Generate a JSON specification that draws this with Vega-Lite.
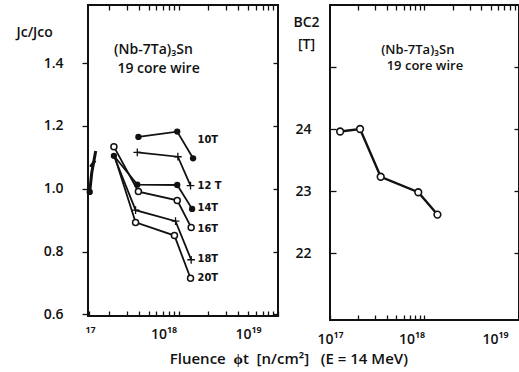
{
  "$schema": "https://vega.github.io/schema/vega-lite/v6.json",
  "padding": {"left": 15, "top": 3, "right": 0, "bottom": 0},
  "background": "white",
  "spacing": 11,
  "title": {"text": "Fluence\u00a0 ϕt\u00a0 [n/cm²]\u00a0\u00a0 (E = 14 MeV)", "orient": "bottom", "anchor": "middle", "fontSize": 15, "fontWeight": 600, "font": "Open Sans", "color": "#111", "dx": 21, "offset": 5},
  "datasets": {
    "jc": [
      {"series": "10T", "fluence": 3.95e17, "ratio": 1.165},
      {"series": "10T", "fluence": 9.7e17, "ratio": 1.182},
      {"series": "10T", "fluence": 1.40e18, "ratio": 1.097},
      {"series": "12T", "fluence": 3.85e17, "ratio": 1.116},
      {"series": "12T", "fluence": 9.85e17, "ratio": 1.102},
      {"series": "12T", "fluence": 1.32e18, "ratio": 1.010},
      {"series": "14T", "fluence": 2.24e17, "ratio": 1.105},
      {"series": "14T", "fluence": 3.85e17, "ratio": 1.013},
      {"series": "14T", "fluence": 9.7e17, "ratio": 1.012},
      {"series": "14T", "fluence": 1.37e18, "ratio": 0.936},
      {"series": "16T", "fluence": 2.24e17, "ratio": 1.134},
      {"series": "16T", "fluence": 3.95e17, "ratio": 0.991},
      {"series": "16T", "fluence": 9.7e17, "ratio": 0.963},
      {"series": "16T", "fluence": 1.34e18, "ratio": 0.877},
      {"series": "18T", "fluence": 2.24e17, "ratio": 1.105},
      {"series": "18T", "fluence": 3.7e17, "ratio": 0.932},
      {"series": "18T", "fluence": 9.33e17, "ratio": 0.897},
      {"series": "18T", "fluence": 1.34e18, "ratio": 0.774},
      {"series": "20T", "fluence": 2.24e17, "ratio": 1.110},
      {"series": "20T", "fluence": 3.7e17, "ratio": 0.893},
      {"series": "20T", "fluence": 9.1e17, "ratio": 0.851},
      {"series": "20T", "fluence": 1.32e18, "ratio": 0.715}
    ],
    "edge": [
      {"part": "a", "fluence": 1.28e17, "ratio": 0.99},
      {"part": "a", "fluence": 1.34e17, "ratio": 1.05},
      {"part": "a", "fluence": 1.47e17, "ratio": 1.12},
      {"part": "b", "fluence": 1.30e17, "ratio": 1.07},
      {"part": "b", "fluence": 1.45e17, "ratio": 1.09}
    ],
    "tagsL": [
      {"fluence": 1.35e18, "ratio": 1.154, "text": "10T"},
      {"fluence": 1.35e18, "ratio": 1.009, "text": "12 T"},
      {"fluence": 1.35e18, "ratio": 0.939, "text": "14T"},
      {"fluence": 1.35e18, "ratio": 0.871, "text": "16T"},
      {"fluence": 1.35e18, "ratio": 0.777, "text": "18T"},
      {"fluence": 1.35e18, "ratio": 0.717, "text": "20T"}
    ],
    "notesL": [
      {"fluence": 5.6e17, "ratio": 1.442, "text": "(Nb-7Ta)₃Sn"},
      {"fluence": 6.3e17, "ratio": 1.381, "text": "19 core wire"}
    ],
    "bc2": [
      {"fluence": 1.28e17, "bc2": 23.96},
      {"fluence": 2.08e17, "bc2": 24.0},
      {"fluence": 3.44e17, "bc2": 23.23},
      {"fluence": 8.59e17, "bc2": 22.98},
      {"fluence": 1.37e18, "bc2": 22.62}
    ],
    "notesR": [
      {"fluence": 8.5e17, "bc2": 25.27, "text": "(Nb-7Ta)₃Sn"},
      {"fluence": 1.01e18, "bc2": 25.01, "text": "19 core wire"}
    ]
  },
  "hconcat": [
    {
      "width": 190,
      "height": 311,
      "resolve": {"axis": {"x": "independent", "y": "independent"}},
      "layer": [
        {
          "data": {"name": "jc"},
          "mark": {"type": "line", "color": "#111", "strokeWidth": 1.8},
          "encoding": {
            "x": {"field": "fluence", "type": "quantitative",
              "scale": {"type": "log", "domain": [1.23e17, 1e19], "nice": false},
              "axis": {"orient": "bottom", "values": [1.26e17, 2e17, 3e17, 4e17, 5e17, 6e17, 7e17, 8e17, 9e17, 1e18, 2e18, 3e18, 4e18, 5e18, 6e18, 7e18, 8e18, 9e18, 1e19],
                "labelFlush": false, "labelOverlap": false, "offset": -5, "tickSize": 5,
                "labelExpr": "datum.value == 1e18 ? '10¹⁸' : datum.value == 1e19 ? '10¹⁹' : datum.value < 1.5e17 ? '¹⁷' : ''",
                "labelOffset": {"condition": [{"test": "datum.value < 5e17", "value": 1}, {"test": "datum.value < 5e18", "value": -15}], "value": -30},
                "labelPadding": 11, "title": null}},
            "y": {"field": "ratio", "type": "quantitative",
              "scale": {"domain": [0.595, 1.585], "zero": false, "nice": false},
              "axis": {"orient": "left", "values": [0.6, 0.8, 1.0, 1.2, 1.4], "format": ".1f", "tickSize": 6, "labelPadding": 19,
                "title": "Jc/Jco", "titleAngle": 0, "titleX": -72, "titleY": 27, "titleAlign": "left", "titleBaseline": "middle"}},
            "detail": {"field": "series"}
          }
        },
        {
          "data": {"name": "edge"},
          "mark": {"type": "line", "color": "#111", "strokeWidth": 3},
          "encoding": {
            "x": {"field": "fluence", "type": "quantitative",
              "scale": {"type": "log", "domain": [1.23e17, 1e19], "nice": false},
              "axis": {"orient": "top", "values": [2e17, 3e17, 4e17, 5e17, 6e17, 7e17, 8e17, 9e17, 1e18, 2e18, 3e18, 4e18, 5e18, 6e18, 7e18, 8e18, 9e18],
                "labels": false, "title": null, "offset": -5, "tickSize": 5}},
            "y": {"field": "ratio", "type": "quantitative",
              "scale": {"domain": [0.595, 1.585], "zero": false, "nice": false},
              "axis": {"orient": "right", "values": [0.6, 0.8, 1.0, 1.2, 1.4], "labels": false, "offset": -5, "tickSize": 5, "title": null}},
            "detail": {"field": "part"}
          }
        },
        {
          "data": {"name": "jc"},
          "transform": [{"filter": "datum.series == '16T' || (datum.series == '20T' && datum.fluence > 3e17)"}],
          "mark": {"type": "point", "shape": "circle", "filled": false, "fill": "white", "stroke": "#111", "strokeWidth": 1.5, "size": 36, "opacity": 1},
          "encoding": {
            "x": {"field": "fluence", "type": "quantitative", "scale": {"type": "log", "domain": [1.23e17, 1e19], "nice": false}, "axis": null},
            "y": {"field": "ratio", "type": "quantitative", "scale": {"domain": [0.595, 1.585], "zero": false, "nice": false}, "axis": null}
          }
        },
        {
          "data": {"name": "jc"},
          "transform": [{"filter": "datum.series == '10T' || datum.series == '14T'"}],
          "mark": {"type": "point", "shape": "circle", "filled": true, "color": "#111", "size": 40, "opacity": 1},
          "encoding": {
            "x": {"field": "fluence", "type": "quantitative", "scale": {"type": "log", "domain": [1.23e17, 1e19], "nice": false}, "axis": null},
            "y": {"field": "ratio", "type": "quantitative", "scale": {"domain": [0.595, 1.585], "zero": false, "nice": false}, "axis": null}
          }
        },
        {
          "data": {"name": "edge"},
          "transform": [{"filter": "datum.fluence < 1.29e17"}],
          "mark": {"type": "point", "shape": "circle", "filled": true, "color": "#111", "size": 40, "opacity": 1},
          "encoding": {
            "x": {"field": "fluence", "type": "quantitative", "scale": {"type": "log", "domain": [1.23e17, 1e19], "nice": false}, "axis": null},
            "y": {"field": "ratio", "type": "quantitative", "scale": {"domain": [0.595, 1.585], "zero": false, "nice": false}, "axis": null}
          }
        },
        {
          "data": {"name": "jc"},
          "transform": [{"filter": "datum.series == '12T' || (datum.series == '18T' && datum.fluence > 3e17)"}],
          "mark": {"type": "point", "shape": "M-1,0H1M0,-1V1", "filled": false, "stroke": "#111", "strokeWidth": 1.3, "size": 60, "opacity": 1},
          "encoding": {
            "x": {"field": "fluence", "type": "quantitative", "scale": {"type": "log", "domain": [1.23e17, 1e19], "nice": false}, "axis": null},
            "y": {"field": "ratio", "type": "quantitative", "scale": {"domain": [0.595, 1.585], "zero": false, "nice": false}, "axis": null}
          }
        },
        {
          "data": {"name": "tagsL"},
          "mark": {"type": "text", "align": "left", "baseline": "middle", "dx": 6, "fontSize": 11, "fontWeight": "bold", "font": "Liberation Sans Narrow, DejaVu Sans Condensed, sans-serif", "color": "#111"},
          "encoding": {
            "x": {"field": "fluence", "type": "quantitative", "scale": {"type": "log", "domain": [1.23e17, 1e19], "nice": false}, "axis": null},
            "y": {"field": "ratio", "type": "quantitative", "scale": {"domain": [0.595, 1.585], "zero": false, "nice": false}, "axis": null},
            "text": {"field": "text"}
          }
        },
        {
          "data": {"name": "notesL"},
          "mark": {"type": "text", "align": "center", "baseline": "middle", "fontSize": 14, "fontWeight": 600, "color": "#111"},
          "encoding": {
            "x": {"field": "fluence", "type": "quantitative", "scale": {"type": "log", "domain": [1.23e17, 1e19], "nice": false}, "axis": null},
            "y": {"field": "ratio", "type": "quantitative", "scale": {"domain": [0.595, 1.585], "zero": false, "nice": false}, "axis": null},
            "text": {"field": "text"}
          }
        }
      ]
    },
    {
      "width": 189,
      "height": 315,
      "resolve": {"axis": {"x": "independent", "y": "independent"}},
      "layer": [
        {
          "data": {"name": "bc2"},
          "mark": {"type": "line", "color": "#111", "strokeWidth": 2.4},
          "encoding": {
            "x": {"field": "fluence", "type": "quantitative",
              "scale": {"type": "log", "domain": [1e17, 1e19], "nice": false},
              "axis": {"orient": "bottom", "values": [1e17, 2e17, 3e17, 4e17, 5e17, 6e17, 7e17, 8e17, 9e17, 1e18, 1e19],
                "labelFlush": false, "labelOverlap": false, "offset": -5, "tickSize": 5,
                "labelExpr": "datum.value == 1e17 ? '10¹⁷' : datum.value == 1e18 ? '10¹⁸' : datum.value == 1e19 ? '10¹⁹' : ''",
                "labelOffset": {"condition": [{"test": "datum.value < 5e17", "value": 0}, {"test": "datum.value < 5e18", "value": -13}], "value": -24},
                "labelPadding": 12, "title": null}},
            "y": {"field": "bc2", "type": "quantitative",
              "scale": {"domain": [20.92, 26.0], "zero": false, "nice": false},
              "axis": {"orient": "left", "values": [22, 23, 24, 25], "labelExpr": "datum.value == 25 ? '' : datum.label", "offset": -6, "tickSize": 6, "labelPadding": 19,
                "title": ["BC2", "[T]"], "titleAngle": 0, "titleX": -30, "titleY": 17, "titleAlign": "center", "titleBaseline": "middle", "titleLineHeight": 22}}
          }
        },
        {
          "data": {"name": "bc2"},
          "mark": {"type": "point", "shape": "circle", "filled": false, "fill": "white", "stroke": "#111", "strokeWidth": 1.6, "size": 45, "opacity": 1},
          "encoding": {
            "x": {"field": "fluence", "type": "quantitative",
              "scale": {"type": "log", "domain": [1e17, 1e19], "nice": false},
              "axis": {"orient": "top", "values": [2e17, 3e17, 4e17, 5e17, 6e17, 7e17, 8e17, 9e17, 1e18, 2e18, 3e18, 4e18, 5e18, 6e18, 7e18, 8e18, 9e18],
                "labels": false, "title": null, "offset": -5, "tickSize": 5}},
            "y": {"field": "bc2", "type": "quantitative",
              "scale": {"domain": [20.92, 26.0], "zero": false, "nice": false},
              "axis": {"orient": "right", "values": [22, 23, 24, 25], "labels": false, "offset": -5, "tickSize": 5, "title": null}}
          }
        },
        {
          "data": {"name": "notesR"},
          "mark": {"type": "text", "align": "center", "baseline": "middle", "fontSize": 13, "fontWeight": 600, "color": "#111"},
          "encoding": {
            "x": {"field": "fluence", "type": "quantitative", "scale": {"type": "log", "domain": [1e17, 1e19], "nice": false}, "axis": null},
            "y": {"field": "bc2", "type": "quantitative", "scale": {"domain": [20.92, 26.0], "zero": false, "nice": false}, "axis": null},
            "text": {"field": "text"}
          }
        }
      ]
    }
  ],
  "config": {
    "view": {"stroke": "#111", "strokeWidth": 2},
    "font": "Open Sans",
    "axis": {"domain": false, "grid": false, "labelColor": "#111", "tickColor": "#111", "tickWidth": 1.3, "minExtent": 0,
      "labelFont": "Open Sans", "labelFontSize": 14, "labelFontWeight": 600,
      "titleFont": "Open Sans", "titleFontSize": 14, "titleFontWeight": 600, "titleColor": "#111"}
  }
}
